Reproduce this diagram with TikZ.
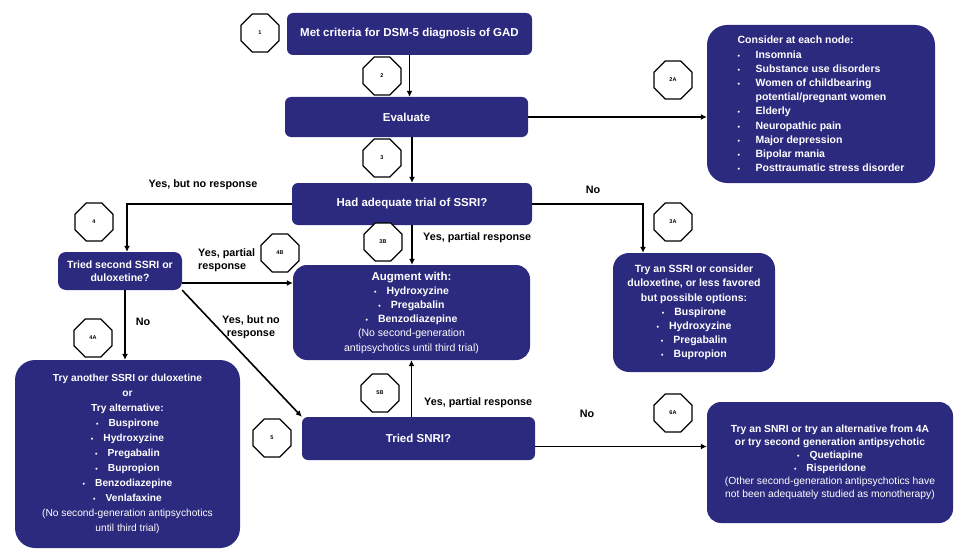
\documentclass[tikz,border=0pt]{standalone}
\usepackage{fontspec}
\setmainfont{Liberation Sans}
\usetikzlibrary{shapes.geometric,arrows.meta}
\definecolor{gadblue}{RGB}{44,42,126}
\newcommand{\bul}{{\fontsize{7}{7}\selectfont\textbullet}\hspace{10pt}}
\newcommand{\lbul}{\makebox[18pt][l]{\fontsize{7}{7}\selectfont\textbullet}}

\begin{document}
\begin{tikzpicture}[x=1pt,y=-1pt,
  box/.style={fill=gadblue,text=white,rounded corners=6pt,align=center,inner sep=2pt,font=\fontsize{11.5}{14}\selectfont\bfseries},
  bigbox/.style={box,rounded corners=16pt,font=\fontsize{10.5}{14.2}\selectfont\bfseries},
  oct/.style={regular polygon,regular polygon sides=8,draw=black,line width=1.3pt,fill=white,minimum size=41pt,inner sep=0pt,font=\fontsize{5.5}{6}\selectfont\bfseries},
  lbl/.style={font=\fontsize{10.8}{13}\selectfont\bfseries,inner sep=1pt},
  arr/.style={line width=1.6pt,-{Latex[length=6pt,width=6pt]}},
  ln/.style={line width=1.6pt}]
\useasboundingbox (0,0) rectangle (954,551);

% Main column
\node[box,minimum width=245,minimum height=42] (crit) at (409.5,34) {Met criteria for DSM-5 diagnosis of GAD};
\node[box,minimum width=243,minimum height=40] (eval) at (406.5,117) {Evaluate};
\node[box,minimum width=240,minimum height=42] (ssri) at (412,204) {Had adequate trial of SSRI?};
\node[bigbox,rounded corners=14pt,minimum width=237,minimum height=95] (aug) at (411.5,312.5)
  {\fontsize{11.5}{15}\selectfont Augment with:\\ \bul Hydroxyzine\\ \bul Pregabalin\\ \bul Benzodiazepine\\
   \mdseries (No second-generation\\ \mdseries antipsychotics until third trial)};
\node[box,minimum width=233,minimum height=43] (snri) at (418.5,438.5) {Tried SNRI?};

% Left column
\node[box,rounded corners=8pt,minimum width=124,minimum height=38,font=\fontsize{10.5}{13}\selectfont\bfseries] (second) at (120,271) {Tried second SSRI or\\duloxetine?};
\node[bigbox,rounded corners=20pt,minimum width=225,minimum height=188,font=\fontsize{10.2}{15}\selectfont\bfseries] (try4a) at (127.5,454)
  {Try another SSRI or duloxetine\\ or\\ Try alternative:\\ \bul Buspirone\\ \bul Hydroxyzine\\ \bul Pregabalin\\
   \bul Bupropion\\ \bul Benzodiazepine\\ \bul Venlafaxine\\
   \mdseries (No second-generation antipsychotics\\ \mdseries until third trial)};

% Right column
\node[bigbox,rounded corners=20pt,minimum width=228,minimum height=158,align=left] (consider) at (821,104)
  {Consider at each node:\\ \lbul Insomnia\\ \lbul Substance use disorders\\ \lbul Women of childbearing\\
   \makebox[18pt]{}potential/pregnant women\\ \lbul Elderly\\ \lbul Neuropathic pain\\ \lbul Major depression\\
   \lbul Bipolar mania\\ \lbul Posttraumatic stress disorder};
\node[bigbox,minimum width=162,minimum height=119] (try3a) at (694,312.5)
  {Try an SSRI or consider\\ duloxetine, or less favored\\ but possible options:\\ \bul Buspirone\\
   \bul Hydroxyzine\\ \bul Pregabalin\\ \bul Bupropion};
\node[bigbox,rounded corners=14pt,minimum width=246,minimum height=121,font=\fontsize{10.3}{13}\selectfont\bfseries] (try6a) at (830,462.5)
  {Try an SNRI or try an alternative from 4A\\ or try second generation antipsychotic\\ \bul Quetiapine\\ \bul Risperidone\\
   \mdseries (Other second-generation antipsychotics have\\ \mdseries not been adequately studied as monotherapy)};

% Step markers
\node[oct] (o1) at (260,33) {1};
\node[oct] (o2) at (382,76) {2};
\node[oct] (o2a) at (673,80) {2A};
\node[oct] (o3) at (382,158) {3};
\node[oct] (o3a) at (673,222) {3A};
\node[oct] (o3b) at (383,242) {3B};
\node[oct] (o4) at (94,222) {4};
\node[oct] (o4b) at (280,253) {4B};
\node[oct] (o4a) at (93,338) {4A};
\node[oct] (o5) at (272,438) {5};
\node[oct] (o5b) at (380,393) {5B};
\node[oct] (o6a) at (673,413) {6A};

% Connector ends
\coordinate (secout) at ([yshift=-12pt]second.east);
\coordinate (snriout) at ([yshift=-8pt]snri.east);
\coordinate (secdown) at ([xshift=5pt]second.south);

% Connectors
\draw[arr] (crit.south) -- (crit.south |- eval.north);
\draw[arr] (eval.east) -- (consider.west |- eval.east);
\draw[arr] (ssri.north |- eval.south) -- (ssri.north);
\draw[arr] (ssri.west) -| ([xshift=7pt]second.north);
\draw[arr] (ssri.east) -| ([xshift=-51pt]try3a.north);
\draw[arr] (ssri.south) -- (ssri.south |- aug.north);
\draw[arr] (secout) -- (aug.west |- secout);
\draw[arr] (secdown) -- (secdown |- try4a.north);
\draw[arr] (second.south east) -- (snri.north west);
\draw[arr] (snri.north -| aug.south) -- (aug.south);
\draw[arr] (snriout) -- (try6a.west |- snriout);

% Branch labels
\node[lbl] (l1) at (203,185) {Yes, but no response};
\node[lbl] (l2) at (593,190) {No};
\node[lbl,anchor=west] (l3) at (422,238) {Yes, partial response};
\node[lbl,anchor=west,align=left] (l4) at (197,260) {Yes, partial\\response};
\node[lbl] (l5) at (143,322) {No};
\node[lbl,align=center] (l6) at (251,327) {Yes, but no\\response};
\node[lbl,anchor=west] (l7) at (423,403) {Yes, partial response};
\node[lbl] (l8) at (587,414) {No};

\end{tikzpicture}
\end{document}
